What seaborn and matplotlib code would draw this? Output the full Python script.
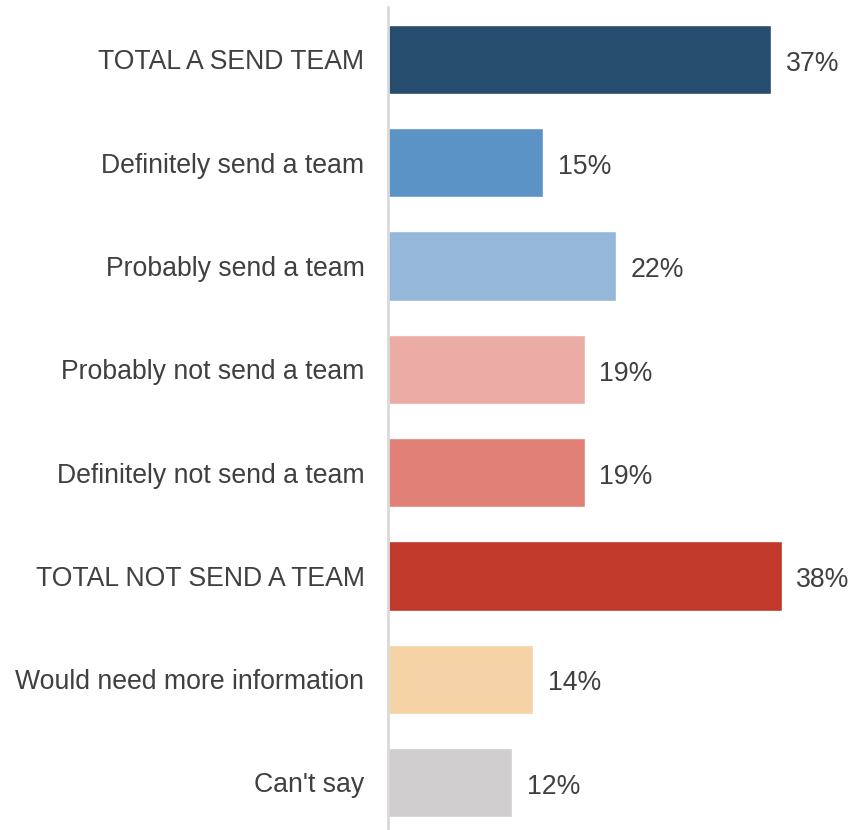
import matplotlib
matplotlib.use("Agg")
import matplotlib.pyplot as plt
import seaborn as sns
import pandas as pd

categories = [
    "TOTAL A SEND TEAM",
    "Definitely send a team",
    "Probably send a team",
    "Probably not send a team",
    "Definitely not send a team",
    "TOTAL NOT SEND A TEAM",
    "Would need more information",
    "Can't say",
]
values = [37, 15, 22, 19, 19, 38, 14, 12]
colors = ["#264d6e", "#5b93c7", "#95b8da", "#ebaca6",
          "#e08077", "#c0392b", "#f5d3a6", "#d0cecf"]

sns.set_theme(style="white")
plt.rcParams["font.family"] = ["Liberation Sans", "DejaVu Sans"]

df = pd.DataFrame({"category": categories, "value": values})

fig = plt.figure(figsize=(8.54, 8.30), dpi=100)
ax = fig.add_axes([388 / 854, 0.0, 1 - 388 / 854, (830 - 7) / 830])

sns.barplot(data=df, y="category", x="value", hue="category",
            palette=colors, order=categories, hue_order=categories,
            width=0.67, legend=False, saturation=1, ax=ax)

for cont in ax.containers:
    ann = ax.bar_label(cont, labels=[f"{v:.0f}%" for v in cont.datavalues],
                       padding=10.5, fontsize=19.2, color="#404040")
    for t in ann:
        t.set_va("center")
        t.set_y(-3)

ax.set_xlim(0, 45)
ax.set_ylim(7.46, -0.508)
ax.set_xlabel("")
ax.set_ylabel("")
ax.set_xticks([])
ax.tick_params(axis="y", length=0, pad=17, labelsize=19.2, labelcolor="#404040")
for side in ["top", "right", "bottom"]:
    ax.spines[side].set_visible(False)
ax.spines["left"].set_color("#d9d9d9")
ax.spines["left"].set_linewidth(2)

fig.savefig("out.png", dpi=100)
